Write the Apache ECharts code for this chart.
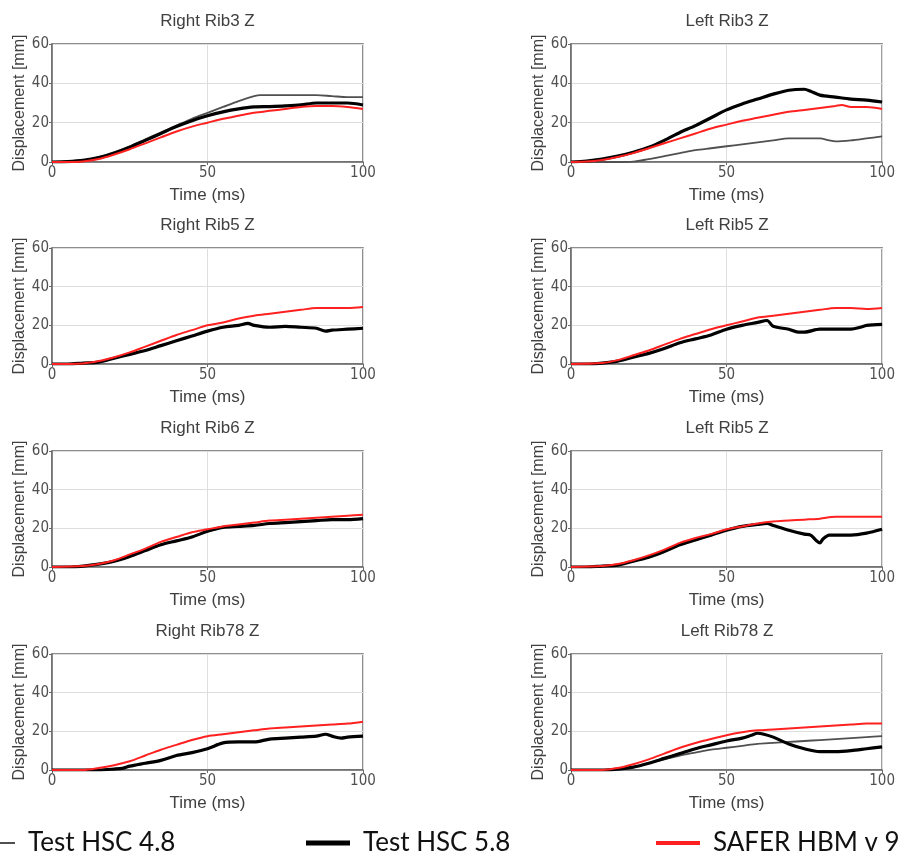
<!DOCTYPE html>
<html>
<head>
<meta charset="utf-8">
<script src="https://cdn.jsdelivr.net/npm/echarts@6/dist/echarts.min.js"></script>
<style>
  html, body { margin: 0; padding: 0; background: #fff; }
  #main { width: 898px; height: 860px; }
</style>
</head>
<body>
<div id="main"></div>
<script>
// panel titles, row by row (left column, right column)
var panelTitles = ['Right Rib3 Z', 'Left Rib3 Z', 'Right Rib5 Z', 'Left Rib5 Z',
                   'Right Rib6 Z', 'Left Rib5 Z', 'Right Rib78 Z', 'Left Rib78 Z'];
var seriesNames = ['Test HSC 4.8', 'Test HSC 5.8', 'SAFER HBM v 9.0'];
var xTicks = [0, 50, 100];
var yTicks = [0, 20, 40, 60];

// [time ms, displacement mm]
var rr3Gray  = [[0,0],[5,0.2],[10,0.8],[15,2.5],[20,5],[25,8],[30,11.5],[35,15],[40,18.5],[45,22],[50,25],[55,28],[60,31],[65,33.5],[67,34],[75,34],[85,34],[90,33.5],[95,33],[100,33]];
var rr3Black = [[0,0],[5,0.2],[10,0.8],[15,2.2],[20,4.5],[25,7.5],[30,11],[35,14.5],[40,18],[45,21],[50,23.5],[55,25.5],[60,27],[65,28],[70,28.2],[75,28.5],[80,29],[85,30],[90,30],[95,30],[100,29]];
var rr3Red   = [[0,0],[5,0],[10,0.3],[15,1.5],[20,3.8],[25,6.5],[30,9.5],[35,12.5],[40,15.5],[45,18],[50,20],[55,22],[60,23.5],[65,25],[70,26],[75,27],[80,28],[85,28.5],[90,28.5],[95,28],[100,27]];

var lr3Gray  = [[0,0],[10,0],[15,0],[20,0.2],[25,1.5],[30,3],[35,4.5],[40,6],[45,7],[50,8],[55,9],[60,10],[65,11],[70,12],[75,12],[80,12],[83,11],[85,10.5],[90,11],[95,12],[100,13]];
var lr3Black = [[0,0],[5,0.5],[10,1.5],[15,3],[20,5],[25,7.5],[30,11],[35,15],[40,18.5],[45,22.5],[50,26.5],[55,29.5],[60,32],[65,34.5],[70,36.5],[75,37],[77,36],[80,34],[85,33],[90,32],[95,31.5],[100,30.5]];
var lr3Red   = [[0,0],[5,0.2],[10,1],[15,2.5],[20,4.5],[25,7],[30,9.5],[35,12],[40,14.5],[45,17],[50,19],[55,21],[60,22.5],[65,24],[70,25.5],[75,26.5],[80,27.5],[85,28.5],[87,29],[90,28],[95,28],[100,27]];

var rr5Black = [[0,0],[5,0],[10,0.5],[15,1],[20,3],[25,5],[30,7],[35,9.5],[40,12],[45,14.5],[50,17],[55,19],[60,20],[63,21],[65,20],[70,19],[75,19.5],[80,19],[85,18.5],[88,17],[90,17.5],[95,18],[100,18.5]];
var rr5Red   = [[0,0],[10,0.3],[15,1.5],[20,3.5],[25,6],[30,9],[35,12],[40,15],[45,17.5],[50,20],[55,21.5],[60,23.5],[65,25],[70,26],[75,27],[80,28],[85,29],[90,29],[95,29],[100,29.5]];

var lr5Black = [[0,0],[5,0],[10,0.5],[15,1.5],[20,3.5],[25,5.5],[30,8],[35,11],[40,13],[45,15],[50,18],[55,20],[60,21.5],[63,22.5],[65,19.5],[70,18],[73,16.5],[75,16.5],[80,18],[85,18],[90,18],[93,19],[95,20],[100,20.5]];
var lr5Red   = [[0,0],[10,0.5],[15,2],[20,4.5],[25,7],[30,10],[35,13],[40,15.5],[45,18],[50,20],[55,22],[60,24],[65,25],[70,26],[75,27],[80,28],[85,29],[90,29],[95,28.5],[100,29]];

var rr6Black = [[0,0],[5,0],[10,0.5],[15,1.5],[20,3],[25,5.5],[30,8.5],[35,11.5],[40,13.5],[45,15.5],[50,18.5],[55,20.5],[60,21],[65,21.5],[70,22.5],[75,23],[80,23.5],[85,24],[90,24.5],[95,24.5],[100,25]];
var rr6Red   = [[0,0],[10,0.5],[15,1.5],[20,3.5],[25,6.5],[30,9.5],[35,13],[40,15.5],[45,18],[50,19.5],[55,21],[60,22],[65,23],[70,24],[75,24.5],[80,25],[85,25.5],[90,26],[95,26.5],[100,27]];

var lr5bBlack = [[0,0],[5,0],[10,0.5],[15,1],[20,3],[25,5],[30,8],[35,11.5],[40,14],[45,16.5],[50,19],[55,21],[60,22],[63,22.5],[65,21.5],[70,19],[75,17],[77,16.5],[79,13.5],[80,12.5],[81,14.5],[83,16.5],[85,16.5],[90,16.5],[95,17.5],[100,19.5]];
var lr5bRed   = [[0,0],[10,0.5],[15,1.5],[20,3.5],[25,6],[30,9],[35,12.5],[40,15],[45,17],[50,19.5],[55,21],[60,22.5],[65,23.5],[70,24],[75,24.5],[80,25],[85,26],[90,26],[95,26],[100,26]];

var rr78Black = [[0,0],[10,0],[15,0],[20,0.5],[23,1],[25,2],[30,3.5],[35,5],[40,7.5],[45,9],[50,11],[55,14],[60,14.5],[65,14.5],[70,16],[75,16.5],[80,17],[85,17.5],[88,18.5],[90,17.5],[93,16.5],[95,17],[100,17.5]];
var rr78Red   = [[0,0],[10,0],[15,1],[20,2.5],[25,4.5],[30,7.5],[35,10.5],[40,13],[45,15.5],[50,17.5],[55,18.5],[60,19.5],[65,20.5],[70,21.5],[75,22],[80,22.5],[85,23],[90,23.5],[95,24],[100,25]];

var lr78Gray  = [[0,0],[10,0],[15,0.5],[20,1.5],[25,3.5],[30,5.5],[35,7.5],[40,9],[45,10.5],[50,11.5],[55,12.5],[60,13.5],[65,14],[70,14.5],[75,15],[80,15.5],[85,16],[90,16.5],[95,17],[100,17.5]];
var lr78Black = [[0,0],[10,0],[15,0.5],[20,1.5],[25,3.5],[30,6],[35,8.5],[40,11],[45,13],[50,15],[55,16.5],[58,18],[60,19],[62,18.5],[65,17],[70,13.5],[75,11],[80,9.5],[85,9.5],[90,10],[95,11],[100,12]];
var lr78Red   = [[0,0],[10,0],[15,1],[20,3],[25,5.5],[30,8.5],[35,11.5],[40,14],[45,16],[50,18],[55,19.5],[60,20.5],[65,21],[70,21.5],[75,22],[80,22.5],[85,23],[90,23.5],[95,24],[100,24]];

// per panel: [gray, black, red]
var panelData = [
  [rr3Gray, rr3Black, rr3Red],
  [lr3Gray, lr3Black, lr3Red],
  [null, rr5Black, rr5Red],
  [null, lr5Black, lr5Red],
  [null, rr6Black, rr6Red],
  [null, lr5bBlack, lr5bRed],
  [null, rr78Black, rr78Red],
  [lr78Gray, lr78Black, lr78Red]
];

var colLeft = [52, 571], colWidth = [311, 312];
var rowTop = [44, 248, 451, 654], rowHeight = [118, 116, 116, 116];
var lineColors = ['#505050', '#000000', '#ff2020'];
var lineWidths = [1.8, 3.2, 2];

var textFont = 'Liberation Sans';
var tickFont = "'DejaVu Sans Condensed', 'Liberation Sans'";
var axisGray = '#6a6a6a';

var grids = [], xAxes = [], yAxes = [], titles = [], series = [];
for (var i = 0; i < 8; i++) {
  var c = i % 2, r = Math.floor(i / 2);
  grids.push({left: colLeft[c], top: rowTop[r], width: colWidth[c], height: rowHeight[r],
    show: true, borderColor: axisGray, borderWidth: 1.5, backgroundColor: '#fff'});
  titles.push({text: panelTitles[i], left: colLeft[c] + colWidth[c] / 2, top: rowTop[r] - 31,
    textAlign: 'center', padding: 0,
    textStyle: {fontFamily: textFont, fontSize: 17, fontWeight: 'normal', color: '#404040'}});
  xAxes.push({type: 'value', gridIndex: i, min: 0, max: 100, interval: 50,
    name: 'Time (ms)', nameLocation: 'middle', nameGap: 25,
    nameTextStyle: {fontFamily: textFont, fontSize: 17, color: '#404040'},
    axisLine: {lineStyle: {color: axisGray, width: 1.5}},
    axisTick: {length: 3, lineStyle: {color: axisGray}},
    axisLabel: {fontFamily: tickFont, fontSize: 15, color: '#505050', margin: 4,
      formatter: function (v) { return xTicks.indexOf(v) >= 0 ? String(v) : ''; }},
    splitLine: {lineStyle: {color: '#dedede', width: 1}}});
  yAxes.push({type: 'value', gridIndex: i, min: 0, max: 60, interval: 20,
    name: 'Displacement [mm]', nameLocation: 'middle', nameGap: 24,
    nameTextStyle: {fontFamily: textFont, fontSize: 16, color: '#404040'},
    axisLine: {lineStyle: {color: axisGray, width: 1.5}},
    axisTick: {length: 3, lineStyle: {color: axisGray}},
    axisLabel: {fontFamily: tickFont, fontSize: 15, color: '#505050', margin: 3,
      formatter: function (v) { return yTicks.indexOf(v) >= 0 ? String(v) : ''; }},
    splitLine: {lineStyle: {color: '#dedede', width: 1}}});
  for (var k = 0; k < 3; k++) {
    if (!panelData[i][k]) continue;
    series.push({name: seriesNames[k], type: 'line', xAxisIndex: i, yAxisIndex: i,
      data: panelData[i][k], showSymbol: false, symbol: 'none', smooth: 0.3,
      lineStyle: {color: lineColors[k], width: lineWidths[k]}, z: 2 + k});
  }
}

var legendLeft = [0, 306, 656], legendIconW = [15, 44, 44], legendIconH = [2, 5, 4];
var legends = [];
for (var j = 0; j < 3; j++) {
  legends.push({left: legendLeft[j], top: 830, padding: 0, selectedMode: false,
    itemWidth: legendIconW[j], itemHeight: legendIconH[j], itemGap: 0,
    data: [{name: seriesNames[j], icon: 'rect', itemStyle: {color: lineColors[j]}}],
    textStyle: {fontFamily: 'Lato', fontSize: 26, color: '#111', padding: [0, 0, 0, 8]}});
}

var chart = echarts.init(document.getElementById('main'));
chart.setOption({
  animation: false,
  backgroundColor: '#fff',
  title: titles,
  legend: legends,
  grid: grids,
  xAxis: xAxes,
  yAxis: yAxes,
  series: series
});
</script>
</body>
</html>
